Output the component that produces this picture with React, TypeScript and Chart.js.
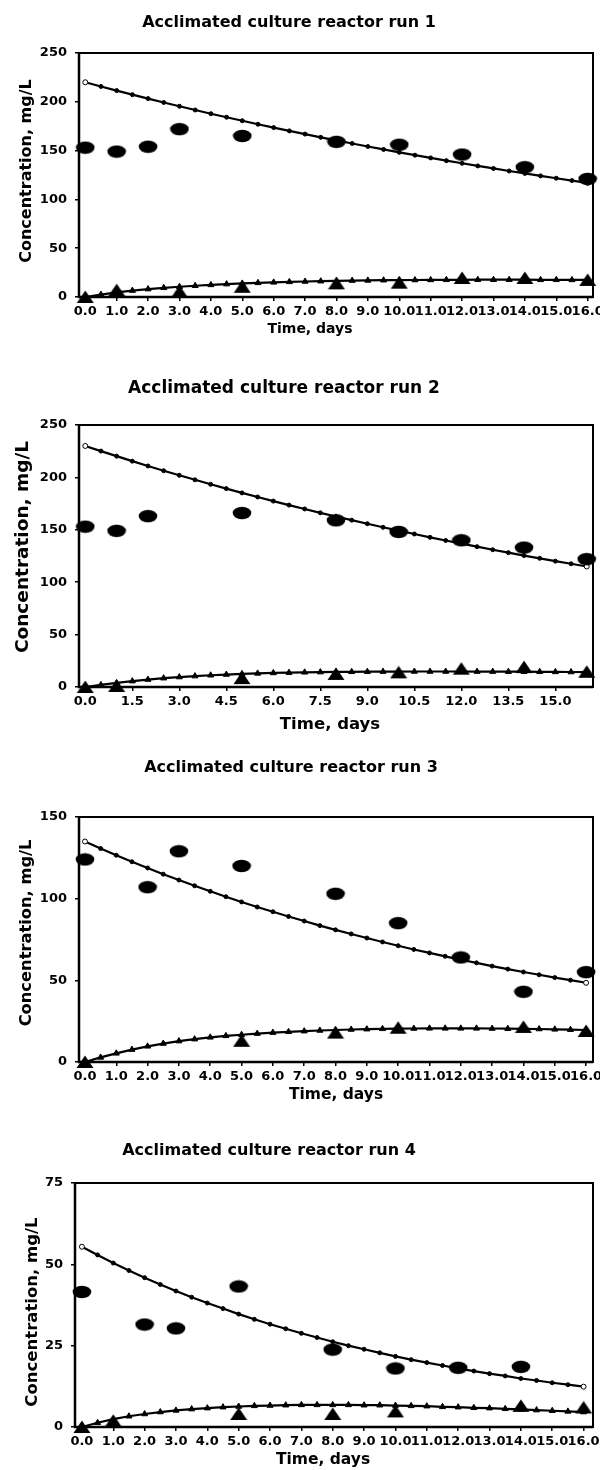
import React, { useEffect, useRef } from "react";
import { Chart, registerables } from "chart.js";
Chart.register(...registerables);

const FONT = '"DejaVu Sans", "Liberation Sans", Arial, sans-serif';

// ---- shared axes / grid ----
const modelTimes = [0, 0.5, 1, 1.5, 2, 2.5, 3, 3.5, 4, 4.5, 5, 5.5, 6, 6.5, 7, 7.5, 8, 8.5, 9, 9.5, 10, 10.5, 11, 11.5, 12, 12.5, 13, 13.5, 14, 14.5, 15, 15.5, 16];
const xTicksWhole = [0, 1, 2, 3, 4, 5, 6, 7, 8, 9, 10, 11, 12, 13, 14, 15, 16];
const xTicksRun2 = [0, 1.5, 3, 4.5, 6, 7.5, 9, 10.5, 12, 13.5, 15];
const yTicks250 = [0, 50, 100, 150, 200, 250];
const yTicks150 = [0, 50, 100, 150];
const yTicks75 = [0, 25, 50, 75];

// ---- run 1 ----
const run1SubTimes = [0, 1, 2, 3, 5, 8, 10, 12, 14, 16];
const run1Sub = [153, 149, 154, 172, 165, 159, 156, 146, 133, 121];
const run1ProdTimes = [0, 1, 3, 5, 8, 10, 12, 14, 16];
const run1Prod = [0, 7, 5.5, 10.5, 14, 14.7, 19.5, 19.5, 17.5];
const run1ModelSub = [220, 215.7, 211.5, 207.3, 203.3, 199.3, 195.4, 191.6, 187.8, 184.2, 180.6, 177.0, 173.6, 170.2, 166.9, 163.6, 160.4, 157.3, 154.2, 151.2, 148.2, 145.3, 142.5, 139.7, 137.0, 134.3, 131.7, 129.1, 126.6, 124.1, 121.7, 119.3, 116.9];
const run1ModelProd = [0, 2.5, 4.8, 6.6, 8.1, 9.4, 10.5, 11.5, 12.4, 13.2, 13.9, 14.5, 15.0, 15.5, 15.9, 16.2, 16.5, 16.8, 17.0, 17.2, 17.3, 17.4, 17.5, 17.6, 17.6, 17.7, 17.7, 17.7, 17.7, 17.6, 17.6, 17.5, 17.5];

// ---- run 2 ----
const run2SubTimes = [0, 1, 2, 5, 8, 10, 12, 14, 16];
const run2Sub = [153, 149, 163, 166, 159, 148, 140, 133, 122];
const run2ProdTimes = [0, 1, 5, 8, 10, 12, 14, 16];
const run2Prod = [0, 1, 8.5, 12.5, 14, 17.5, 19, 14.5];
const run2ModelSub = [230, 225.1, 220.3, 215.5, 210.9, 206.4, 202.0, 197.7, 193.4, 189.3, 185.2, 181.3, 177.4, 173.6, 169.9, 166.2, 162.7, 159.2, 155.8, 152.4, 149.2, 146.0, 142.8, 139.8, 136.8, 133.9, 131.0, 128.2, 125.4, 122.8, 120.1, 117.6, 115.0];
const run2ModelProd = [0, 2.0, 3.9, 5.6, 7.1, 8.4, 9.5, 10.4, 11.2, 11.9, 12.5, 13.0, 13.4, 13.7, 14.0, 14.2, 14.4, 14.5, 14.6, 14.7, 14.7, 14.8, 14.8, 14.8, 14.8, 14.7, 14.7, 14.6, 14.6, 14.5, 14.4, 14.3, 14.2];

// ---- run 3 ----
const run3SubTimes = [0, 2, 3, 5, 8, 10, 12, 14, 16];
const run3Sub = [124, 107, 129, 120, 103, 85, 64, 43, 55];
const run3ProdTimes = [0, 5, 8, 10, 14, 16];
const run3Prod = [0, 13, 18, 21, 21.5, 19];
const run3ModelSub = [135, 130.7, 126.6, 122.6, 118.8, 115.0, 111.4, 107.9, 104.5, 101.2, 98.0, 94.9, 92.0, 89.1, 86.3, 83.5, 80.9, 78.4, 75.9, 73.5, 71.2, 68.9, 66.8, 64.7, 62.6, 60.7, 58.7, 56.9, 55.1, 53.4, 51.7, 50.1, 48.5];
const run3ModelProd = [0, 2.8, 5.3, 7.6, 9.6, 11.3, 12.8, 14.0, 15.1, 16.0, 16.7, 17.4, 18.0, 18.5, 18.9, 19.3, 19.6, 19.9, 20.1, 20.3, 20.4, 20.5, 20.6, 20.6, 20.6, 20.6, 20.5, 20.4, 20.3, 20.2, 20.0, 19.8, 19.6];

// ---- run 4 ----
const run4SubTimes = [0, 2, 3, 5, 8, 10, 12, 14];
const run4Sub = [41.5, 31.5, 30.3, 43.2, 23.8, 18, 18.2, 18.5];
const run4ProdTimes = [0, 1, 5, 8, 10, 14, 16];
const run4Prod = [0, 1.9, 4, 4, 4.8, 6.5, 6];
const run4ModelSub = [55.4, 52.9, 50.4, 48.1, 45.9, 43.8, 41.8, 39.9, 38.1, 36.4, 34.7, 33.1, 31.6, 30.2, 28.8, 27.5, 26.2, 25.0, 23.9, 22.8, 21.7, 20.7, 19.8, 18.9, 18.0, 17.2, 16.4, 15.7, 14.9, 14.3, 13.6, 13.0, 12.4];
const run4ModelProd = [0, 1.3, 2.4, 3.3, 4.0, 4.6, 5.1, 5.5, 5.8, 6.1, 6.3, 6.5, 6.6, 6.7, 6.8, 6.8, 6.8, 6.8, 6.7, 6.7, 6.6, 6.5, 6.4, 6.2, 6.1, 5.9, 5.8, 5.6, 5.4, 5.2, 5.0, 4.8, 4.6];

const titles = [
  "Acclimated culture reactor run 1",
  "Acclimated culture reactor run 2",
  "Acclimated culture reactor run 3",
  "Acclimated culture reactor run 4",
];
const yAxisTitle = "Concentration, mg/L";
const xAxisTitle = "Time, days";

type Panel = {
  title: string;
  top: number;
  height: number;
  area: { left: number; right: number; top: number; bottom: number };
  xMin: number;
  xMax: number;
  yMax: number;
  xTicks: number[];
  yTicks: number[];
  subT: number[];
  sub: number[];
  prodT: number[];
  prod: number[];
  mSub: number[];
  mProd: number[];
  titlePos: { x: number; y: number; size: number };
  yLab: { x: number; y: number; size: number };
  xLab: { x: number; y: number; size: number };
};

const panels: Panel[] = [
  {
    title: titles[0], top: 0, height: 360,
    area: { left: 79, right: 593, top: 53, bottom: 297 },
    xMin: -0.2, xMax: 16.17, yMax: 250, xTicks: xTicksWhole, yTicks: yTicks250,
    subT: run1SubTimes, sub: run1Sub, prodT: run1ProdTimes, prod: run1Prod,
    mSub: run1ModelSub, mProd: run1ModelProd,
    titlePos: { x: 289, y: 23, size: 16 }, yLab: { x: 27, y: 171, size: 16 }, xLab: { x: 310, y: 329, size: 14 },
  },
  {
    title: titles[1], top: 360, height: 380,
    area: { left: 79, right: 593, top: 65, bottom: 327 },
    xMin: -0.2, xMax: 16.2, yMax: 250, xTicks: xTicksRun2, yTicks: yTicks250,
    subT: run2SubTimes, sub: run2Sub, prodT: run2ProdTimes, prod: run2Prod,
    mSub: run2ModelSub, mProd: run2ModelProd,
    titlePos: { x: 284, y: 29, size: 17 }, yLab: { x: 23, y: 187, size: 18.5 }, xLab: { x: 330, y: 365, size: 16.5 },
  },
  {
    title: titles[2], top: 740, height: 370,
    area: { left: 79, right: 597, top: 77, bottom: 322 },
    xMin: -0.19, xMax: 16.22, yMax: 150, xTicks: xTicksWhole, yTicks: yTicks150,
    subT: run3SubTimes, sub: run3Sub, prodT: run3ProdTimes, prod: run3Prod,
    mSub: run3ModelSub, mProd: run3ModelProd,
    titlePos: { x: 291, y: 28, size: 16 }, yLab: { x: 27, y: 193, size: 16.3 }, xLab: { x: 336, y: 355, size: 15.5 },
  },
  {
    title: titles[3], top: 1110, height: 360,
    area: { left: 75, right: 593, top: 73, bottom: 317 },
    xMin: -0.22, xMax: 16.3, yMax: 75, xTicks: xTicksWhole, yTicks: yTicks75,
    subT: run4SubTimes, sub: run4Sub, prodT: run4ProdTimes, prod: run4Prod,
    mSub: run4ModelSub, mProd: run4ModelProd,
    titlePos: { x: 269, y: 41, size: 16 }, yLab: { x: 33, y: 202, size: 16.5 }, xLab: { x: 323, y: 350, size: 15.5 },
  },
];

function makeEllipse(): HTMLCanvasElement {
  const c = document.createElement("canvas");
  c.width = 20; c.height = 14;
  const g = c.getContext("2d")!;
  g.fillStyle = "#000";
  g.beginPath();
  g.ellipse(10, 7, 9.3, 6.2, 0, 0, Math.PI * 2);
  g.fill();
  return c;
}
function makeTriangle(): HTMLCanvasElement {
  const c = document.createElement("canvas");
  c.width = 18; c.height = 14;
  const g = c.getContext("2d")!;
  g.fillStyle = "#000";
  g.beginPath();
  g.moveTo(9, 0.5);
  g.lineTo(17.5, 13);
  g.lineTo(0.5, 13);
  g.closePath();
  g.fill();
  return c;
}

function PanelChart({ p }: { p: Panel }) {
  const ref = useRef<HTMLCanvasElement>(null);
  useEffect(() => {
    const canvas = ref.current!;
    const ellipse = makeEllipse();
    const tri = makeTriangle();
    const tickFont = { family: FONT, size: 13, weight: "bold" as const };
    const last = modelTimes.length - 1;

    const framePlugin = {
      id: "frame",
      beforeDatasetsDraw(chart: any) {
        const { left, right, top, bottom } = chart.chartArea;
        const ctx = chart.ctx;
        ctx.save();
        ctx.strokeStyle = "#000";
        ctx.lineWidth = 2;
        ctx.strokeRect(left, top, right - left, bottom - top);
        ctx.lineWidth = 2.5;
        ctx.beginPath();
        ctx.moveTo(left, top);
        ctx.lineTo(left, bottom);
        ctx.lineTo(right, bottom);
        ctx.stroke();
        ctx.restore();
      },
    };
    const textPlugin = {
      id: "panelText",
      afterDraw(chart: any) {
        const ctx = chart.ctx;
        const items = [
          { text: p.title, ...p.titlePos, rot: false },
          { text: yAxisTitle, ...p.yLab, rot: true },
          { text: xAxisTitle, ...p.xLab, rot: false },
        ];
        for (const it of items) {
          ctx.save();
          ctx.font = `bold ${it.size}px ${FONT}`;
          ctx.fillStyle = "#000";
          ctx.textAlign = "center";
          ctx.textBaseline = "middle";
          ctx.translate(it.x, it.y);
          if (it.rot) ctx.rotate(-Math.PI / 2);
          ctx.fillText(it.text, 0, 0);
          ctx.restore();
        }
      },
    };

    const chart = new Chart(canvas, {
      type: "line",
      data: {
        datasets: [
          {
            label: "Substrate (measured)",
            data: p.subT.map((t, i) => ({ x: t, y: p.sub[i] })),
            showLine: false,
            pointStyle: ellipse as any,
            pointRadius: 6,
            clip: false as any,
          },
          {
            label: "Product (measured)",
            data: p.prodT.map((t, i) => ({ x: t, y: p.prod[i] })),
            showLine: false,
            pointStyle: tri as any,
            pointRadius: 6,
            clip: false as any,
          },
          {
            label: "Substrate (model)",
            data: modelTimes.map((t, i) => ({ x: t, y: p.mSub[i] })),
            borderColor: "#000",
            borderWidth: 2.2,
            pointStyle: "circle",
            pointRadius: (c: any) => (c.dataIndex === 0 || c.dataIndex === last ? 2.5 : 2),
            pointBackgroundColor: (c: any) => (c.dataIndex === 0 || c.dataIndex === last ? "#fff" : "#000"),
            pointBorderColor: "#000",
            pointBorderWidth: 1,
            tension: 0,
            clip: false as any,
          },
          {
            label: "Product (model)",
            data: modelTimes.map((t, i) => ({ x: t, y: p.mProd[i] })),
            borderColor: "#000",
            borderWidth: 2.2,
            pointStyle: "triangle",
            pointRadius: 3.5,
            pointBackgroundColor: "#000",
            pointBorderColor: "#000",
            pointBorderWidth: 1,
            tension: 0,
            clip: false as any,
          },
        ],
      },
      options: {
        animation: false,
        responsive: false,
        events: [],
        layout: {
          padding: {
            left: 0,
            right: 600 - p.area.right,
            top: p.area.top,
            bottom: p.height - p.area.bottom - 25,
          },
        },
        plugins: {
          legend: { display: false },
          tooltip: { enabled: false },
          title: { display: false },
        },
        scales: {
          x: {
            type: "linear",
            min: p.xMin,
            max: p.xMax,
            afterBuildTicks: (s: any) => {
              s.ticks = p.xTicks.map((v) => ({ value: v }));
            },
            afterFit: (s: any) => {
              s.height = 25;
              s.paddingLeft = 0;
              s.paddingRight = 0;
            },
            grid: { display: true, drawOnChartArea: false, drawTicks: true, tickLength: 4, color: "#000", lineWidth: 1.5 },
            border: { display: false },
            ticks: {
              autoSkip: false,
              maxRotation: 0,
              minRotation: 0,
              padding: 3,
              color: "#000",
              font: tickFont,
              callback: (v: any) => Number(v).toFixed(1),
            },
          },
          y: {
            type: "linear",
            min: 0,
            max: p.yMax,
            afterBuildTicks: (s: any) => {
              s.ticks = p.yTicks.map((v) => ({ value: v }));
            },
            afterFit: (s: any) => {
              s.width = p.area.left;
              s.paddingTop = 0;
              s.paddingBottom = 0;
            },
            grid: { display: true, drawOnChartArea: false, drawTicks: true, tickLength: 4, color: "#000", lineWidth: 1.5 },
            border: { display: false },
            ticks: {
              padding: 8,
              color: "#000",
              font: tickFont,
              callback: (v: any) => String(v),
            },
          },
        },
      } as any,
      plugins: [framePlugin, textPlugin],
    });
    return () => chart.destroy();
  }, [p]);

  return (
    <canvas
      ref={ref}
      width={600}
      height={p.height}
      style={{ position: "absolute", left: 0, top: p.top, width: 600, height: p.height }}
    />
  );
}

export default function App() {
  return (
    <div style={{ position: "absolute", left: 0, top: 0, width: 600, height: 1470, background: "#fff" }}>
      {panels.map((p, i) => (
        <PanelChart key={i} p={p} />
      ))}
    </div>
  );
}
